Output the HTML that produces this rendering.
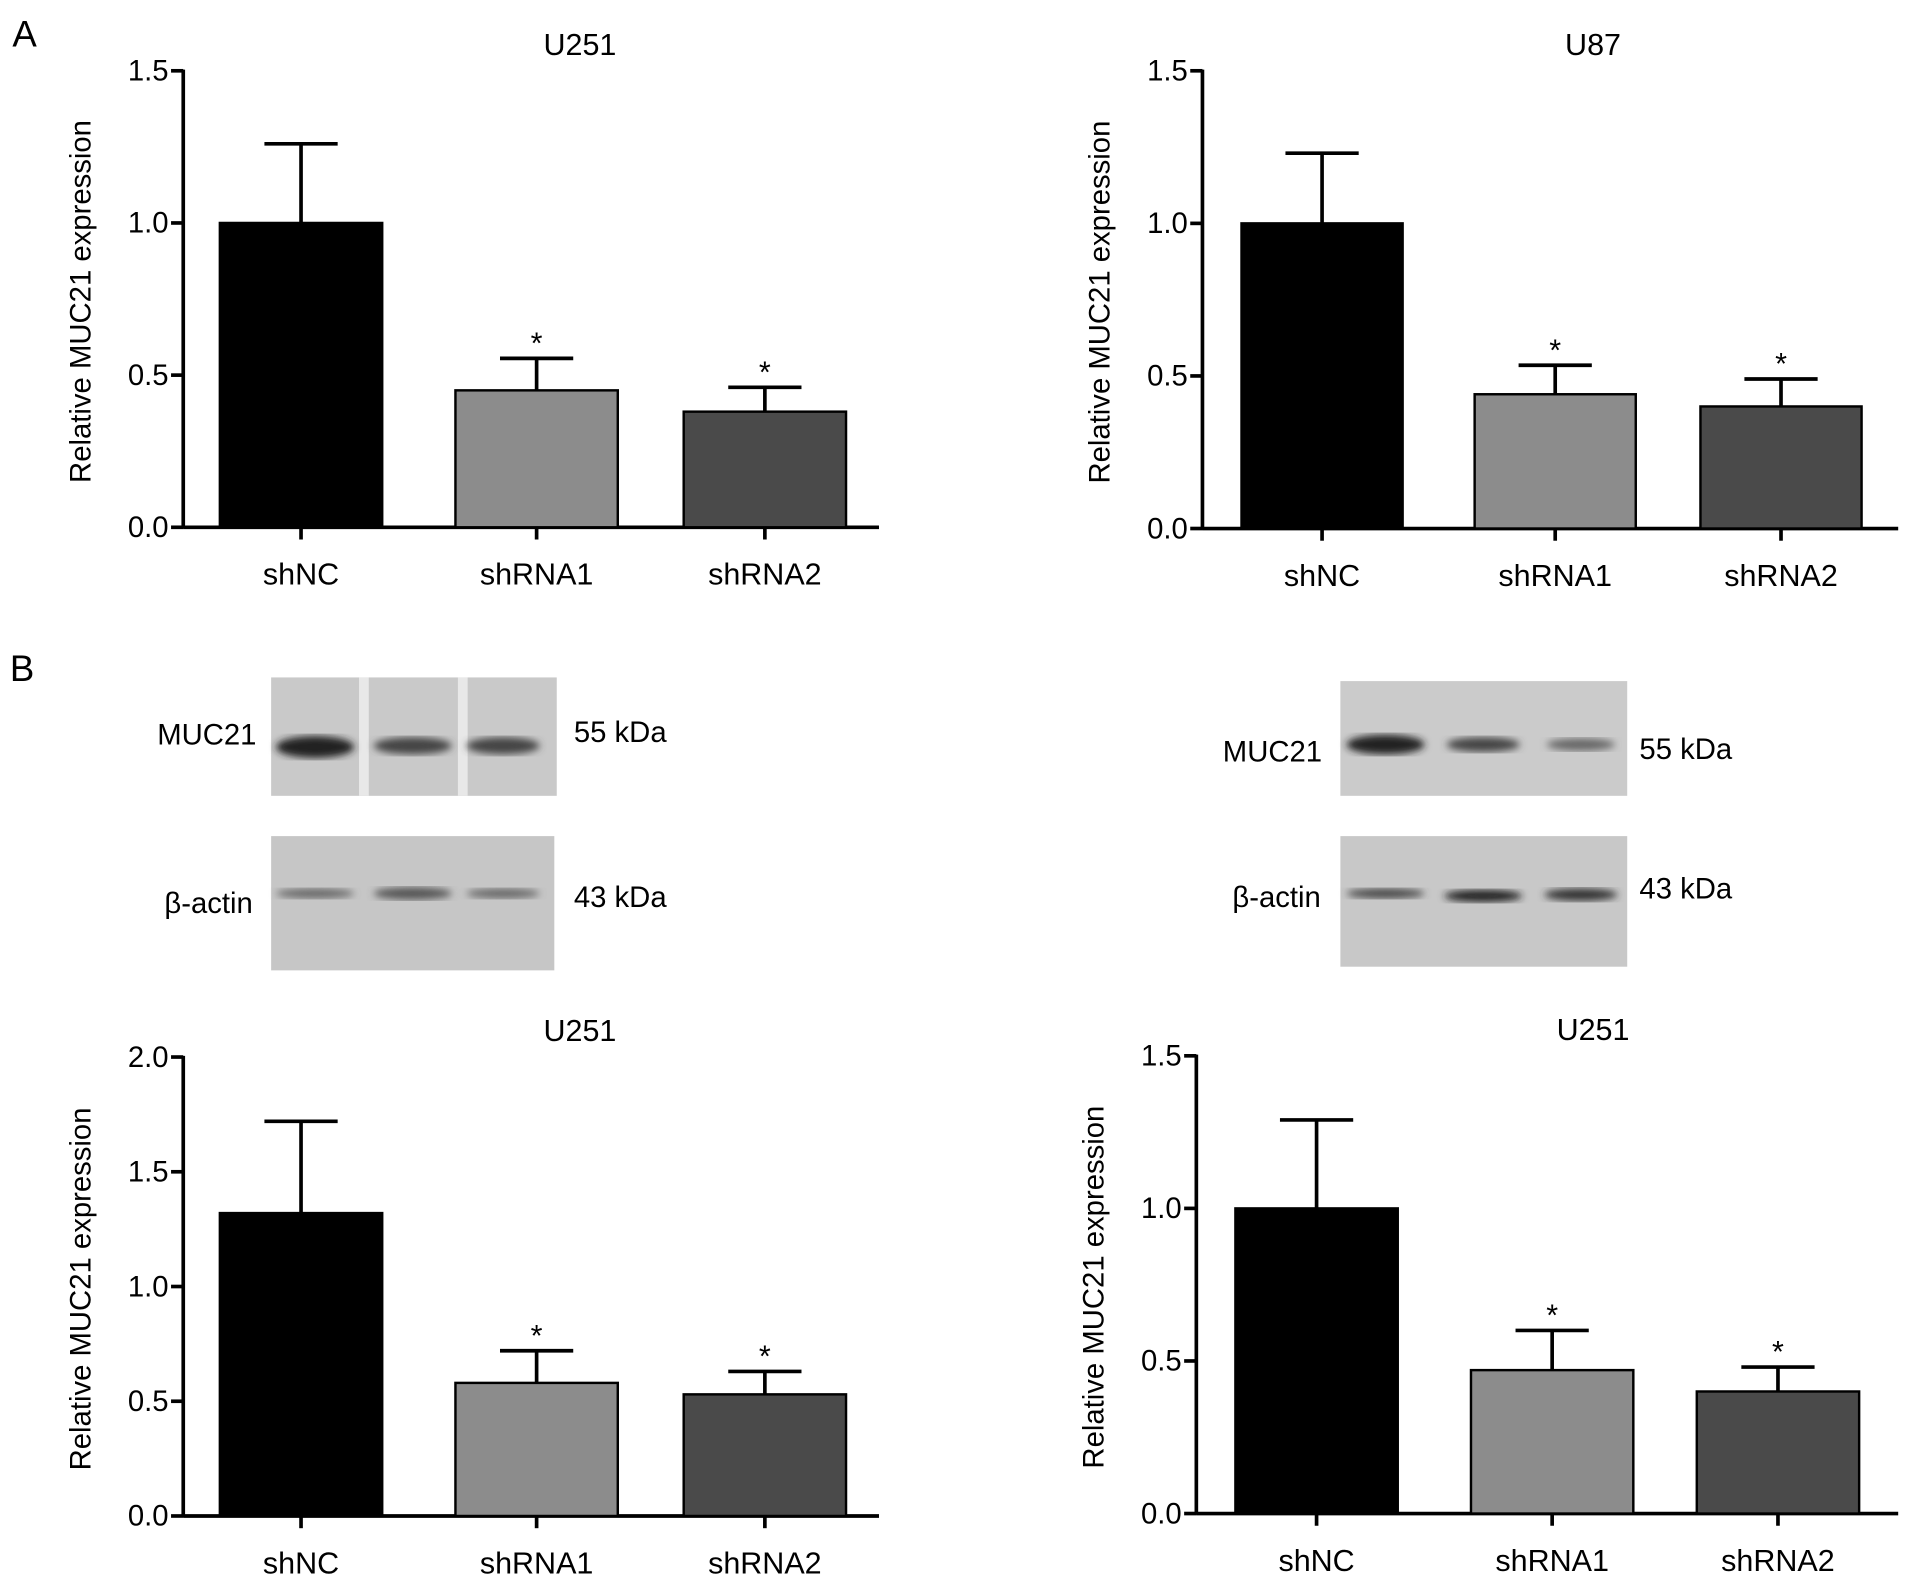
<!DOCTYPE html>
<html><head><meta charset="utf-8"><style>
html,body{margin:0;padding:0;background:#fff;}
svg{display:block;font-family:"Liberation Sans",sans-serif;}
</style></head><body>
<svg id="fig" width="1913" height="1588" viewBox="0 0 1567 1301" xmlns="http://www.w3.org/2000/svg">
<text x="10" y="38" font-size="30">A</text>
<text x="8" y="558" font-size="30">B</text>
<defs>
<filter id="blur"><feGaussianBlur stdDeviation="3"/></filter>
</defs>
<g>
<rect x="222" y="555" width="234" height="97" fill="#c9c9c9"/>
<rect x="294" y="555" width="8" height="97" fill="#e8e8e8"/><rect x="375" y="555" width="8" height="97" fill="#e8e8e8"/>
<ellipse cx="258" cy="612" rx="32" ry="9" fill="#222" filter="url(#blur)"/>
<ellipse cx="338" cy="611" rx="32" ry="7" fill="#444" filter="url(#blur)"/>
<ellipse cx="412" cy="611" rx="30" ry="7" fill="#444" filter="url(#blur)"/>
<rect x="222" y="685" width="232" height="110" fill="#c6c6c6"/>
<ellipse cx="258" cy="732" rx="32" ry="4" fill="#666" filter="url(#blur)"/>
<ellipse cx="338" cy="732" rx="32" ry="5" fill="#555" filter="url(#blur)"/>
<ellipse cx="412" cy="732" rx="30" ry="4" fill="#666" filter="url(#blur)"/>
<text x="210" y="610" font-size="24" text-anchor="end">MUC21</text>
<text x="207" y="748" font-size="24" text-anchor="end">β-actin</text>
<text x="470" y="608" font-size="24">55 kDa</text>
<text x="470" y="743" font-size="24">43 kDa</text>
</g>
<g>
<rect x="1098" y="558" width="235" height="94" fill="#cbcbcb"/>
<ellipse cx="1135" cy="610" rx="32" ry="8" fill="#222" filter="url(#blur)"/>
<ellipse cx="1215" cy="610" rx="30" ry="6" fill="#444" filter="url(#blur)"/>
<ellipse cx="1295" cy="610" rx="28" ry="5" fill="#666" filter="url(#blur)"/>
<rect x="1098" y="685" width="235" height="107" fill="#c8c8c8"/>
<ellipse cx="1135" cy="732" rx="32" ry="4" fill="#444" filter="url(#blur)"/>
<ellipse cx="1215" cy="734" rx="32" ry="5" fill="#222" filter="url(#blur)"/>
<ellipse cx="1295" cy="733" rx="30" ry="5" fill="#333" filter="url(#blur)"/>
<text x="1083" y="624" font-size="24" text-anchor="end">MUC21</text>
<text x="1082" y="743" font-size="24" text-anchor="end">β-actin</text>
<text x="1343" y="622" font-size="24">55 kDa</text>
<text x="1343" y="736" font-size="24">43 kDa</text>
</g>
</svg>
<script>
const categories = ["shNC","shRNA1","shRNA2"];
const valuesA1 = [1.0, 0.45, 0.38];
const errorsA1 = [0.26, 0.105, 0.08];
const valuesA2 = [1.0, 0.44, 0.40];
const errorsA2 = [0.23, 0.095, 0.09];
const valuesB1 = [1.32, 0.58, 0.53];
const errorsB1 = [0.40, 0.14, 0.10];
const valuesB2 = [1.0, 0.47, 0.40];
const errorsB2 = [0.29, 0.13, 0.08];
const sig = ["", "*", "*"];
const ticks15 = [0, 0.5, 1.0, 1.5];
const ticks20 = [0, 0.5, 1.0, 1.5, 2.0];
const colors = ["#000", "#8c8c8c", "#4a4a4a"];
const NS = "http://www.w3.org/2000/svg";
const svg = document.getElementById("fig");
function el(tag, attrs, parent){const e=document.createElementNS(NS,tag);for(const k in attrs)e.setAttribute(k,attrs[k]);(parent||svg).appendChild(e);return e;}
function chart(cfg){
  const g = el("g",{});
  
  
  const y = v => cfg.y0 - (v/cfg.max)*(cfg.y0-cfg.y1);
  el("line",{x1:cfg.ax,y1:cfg.y1-1,x2:cfg.ax,y2:cfg.y0+1,stroke:"#000","stroke-width":3},g);
  el("line",{x1:cfg.ax,y1:cfg.y0,x2:cfg.xEnd,y2:cfg.y0,stroke:"#000","stroke-width":3},g);
  cfg.ticks.forEach(t=>{
    el("line",{x1:cfg.ax-10,y1:y(t),x2:cfg.ax,y2:y(t),stroke:"#000","stroke-width":3},g);
    const tx = el("text",{x:cfg.ax-12,y:y(t)+8,"font-size":24,"text-anchor":"end"},g);
    tx.textContent = t.toFixed(1);
    
    
  });
  const yl = el("text",{x:0,y:0,"font-size":24,"text-anchor":"middle",transform:`translate(${cfg.ax-76},${(cfg.y0+cfg.y1)/2+2}) rotate(-90)`},g);
  yl.textContent = "Relative MUC21 expression";
  
  
  const tt = el("text",{x:cfg.tx,y:cfg.y1-13,"font-size":25,"text-anchor":"middle"},g);
  tt.textContent = cfg.title;
  
  
  categories.forEach((c,i)=>{
    const x = cfg.bx[i], w = cfg.bw, cx = x + w/2;
    const v = cfg.vals[i], e = cfg.errs[i];
    el("line",{x1:cx,y1:y(v),x2:cx,y2:y(v+e),stroke:"#000","stroke-width":3},g);
    el("line",{x1:cx-30,y1:y(v+e),x2:cx+30,y2:y(v+e),stroke:"#000","stroke-width":3},g);
    const r = el("rect",{x:x,y:y(v),width:w,height:cfg.y0-y(v),fill:colors[i],stroke:"#000","stroke-width":2},g);
    
    
    el("line",{x1:cx,y1:cfg.y0,x2:cx,y2:cfg.y0+10,stroke:"#000","stroke-width":3},g);
    const l = el("text",{x:cx,y:cfg.y0+47,"font-size":25,"text-anchor":"middle"},g);
    l.textContent = c;
    
    
    if(sig[i]){
      const s = el("text",{x:cx,y:y(v+e)-4,"font-size":25,"text-anchor":"middle"},g);
      s.textContent = sig[i];
      
      
    }
  });
}
chart({name:"chart-a-u251",ax:150,xEnd:720,y0:432,y1:58,max:1.5,ticks:ticks15,title:"U251",tx:475,bx:[180,373,560],bw:133,vals:valuesA1,errs:errorsA1});
chart({name:"chart-a-u87",ax:985,xEnd:1555,y0:433,y1:58,max:1.5,ticks:ticks15,title:"U87",tx:1305,bx:[1017,1208,1393],bw:132,vals:valuesA2,errs:errorsA2});
chart({name:"chart-b-u251-left",ax:150,xEnd:720,y0:1242,y1:866,max:2.0,ticks:ticks20,title:"U251",tx:475,bx:[180,373,560],bw:133,vals:valuesB1,errs:errorsB1});
chart({name:"chart-b-u251-right",ax:980,xEnd:1555,y0:1240,y1:865,max:1.5,ticks:ticks15,title:"U251",tx:1305,bx:[1012,1205,1390],bw:133,vals:valuesB2,errs:errorsB2});
</script>
</body></html>
